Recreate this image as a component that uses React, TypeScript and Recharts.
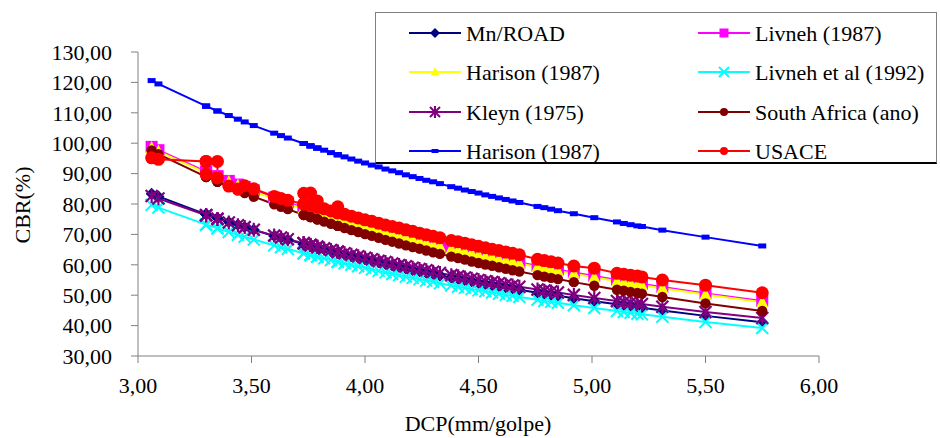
import React from 'react';
import { LineChart, Line, XAxis, YAxis, Label } from 'recharts';

const dcp = [3.06,3.09,3.30,3.30,3.30,3.35,3.35,3.40,3.44,3.47,3.51,3.60,3.63,3.66,3.73,3.73,3.73,3.76,3.76,3.76,3.79,3.79,3.79,3.82,3.85,3.88,3.88,3.88,3.91,3.94,3.97,4.00,4.03,4.06,4.09,4.12,4.15,4.18,4.21,4.24,4.27,4.30,4.33,4.38,4.41,4.44,4.47,4.50,4.53,4.56,4.59,4.62,4.65,4.68,4.76,4.79,4.82,4.85,4.92,5.01,5.11,5.14,5.17,5.20,5.22,5.31,5.50,5.75];

const mnRoad = [83.4,82.5,76.6,76.6,76.6,75.4,75.4,74.1,73.2,72.4,71.5,69.5,68.9,68.2,66.8,66.8,66.8,66.2,66.2,66.2,65.6,65.6,65.6,65.1,64.5,63.9,63.9,63.9,63.4,62.8,62.3,61.8,61.3,60.8,60.3,59.8,59.3,58.8,58.3,57.9,57.4,57.0,56.5,55.8,55.4,55.0,54.6,54.1,53.7,53.3,53.0,52.6,52.2,51.8,50.8,50.5,50.1,49.8,49.0,48.0,47.0,46.7,46.4,46.1,45.9,45.0,43.2,41.1];

const livneh1987 = [98.8,97.7,90.6,90.6,90.6,89.1,89.1,87.6,86.4,85.6,84.5,82.1,81.3,80.5,78.8,78.8,78.8,78.1,78.1,78.1,77.4,77.4,77.4,76.7,76.0,75.4,75.4,75.4,74.7,74.0,73.4,72.8,72.2,71.6,71.0,70.4,69.8,69.2,68.7,68.1,67.6,67.0,66.5,65.6,65.1,64.6,64.1,63.6,63.1,62.7,62.2,61.7,61.3,60.8,59.7,59.3,58.8,58.4,57.5,56.3,55.0,54.7,54.3,53.9,53.7,52.7,50.6,48.1];

const harison1987 = [98.4,97.3,90.2,90.2,90.2,88.7,88.7,87.2,86.0,85.2,84.1,81.7,80.9,80.1,78.4,78.4,78.4,77.7,77.7,77.7,77.0,77.0,77.0,76.3,75.6,75.0,75.0,75.0,74.3,73.6,73.0,72.4,71.8,71.2,70.6,70.0,69.4,68.8,68.3,67.7,67.2,66.6,66.1,65.2,64.7,64.2,63.7,63.2,62.7,62.3,61.8,61.3,60.9,60.4,59.3,58.9,58.4,58.0,57.1,55.9,54.6,54.3,53.9,53.5,53.3,52.3,50.2,47.7];

const livneh1992 = [79.7,78.8,73.2,73.2,73.2,72.0,72.0,70.8,69.9,69.2,68.3,66.4,65.8,65.2,63.8,63.8,63.8,63.2,63.2,63.2,62.7,62.7,62.7,62.1,61.6,61.0,61.0,61.0,60.5,60.0,59.5,59.0,58.5,58.0,57.5,57.0,56.6,56.1,55.7,55.2,54.8,54.4,53.9,53.2,52.8,52.4,52.0,51.6,51.3,50.9,50.5,50.1,49.8,49.4,48.5,48.1,47.8,47.5,46.7,45.8,44.8,44.5,44.2,43.9,43.7,42.9,41.2,39.2];

const kleyn1975 = [82.6,81.8,76.3,76.3,76.3,75.1,75.1,73.9,73.0,72.4,71.5,69.6,69.0,68.4,67.1,67.1,67.1,66.5,66.5,66.5,65.9,65.9,65.9,65.4,64.9,64.3,64.3,64.3,63.8,63.3,62.8,62.3,61.8,61.3,60.9,60.4,59.9,59.5,59.0,58.6,58.2,57.7,57.3,56.6,56.2,55.8,55.4,55.0,54.6,54.3,53.9,53.5,53.2,52.8,51.9,51.5,51.2,50.9,50.1,49.1,48.1,47.8,47.5,47.3,47.1,46.2,44.5,42.5];

const southAfrica = [97.6,96.4,88.9,88.9,88.9,87.3,87.3,85.7,84.5,83.6,82.4,79.9,79.1,78.3,76.4,76.4,76.4,75.7,75.7,75.7,75.0,75.0,75.0,74.2,73.5,72.8,72.8,72.8,72.1,71.4,70.8,70.1,69.5,68.9,68.2,67.6,67.0,66.4,65.8,65.3,64.7,64.1,63.6,62.7,62.2,61.7,61.1,60.6,60.1,59.7,59.2,58.7,58.2,57.8,56.6,56.1,55.7,55.3,54.3,53.1,51.8,51.5,51.1,50.7,50.5,49.4,47.3,44.8];

const harisonBlue = [120.6,119.5,112.2,112.2,112.2,110.6,110.6,109.1,107.9,107.0,105.8,103.3,102.5,101.7,99.9,99.9,99.9,99.1,99.1,99.1,98.4,98.4,98.4,97.7,96.9,96.2,96.2,96.2,95.5,94.8,94.1,93.5,92.8,92.2,91.5,90.9,90.3,89.6,89.0,88.4,87.8,87.3,86.7,85.7,85.2,84.6,84.1,83.6,83.0,82.5,82.0,81.5,81.0,80.5,79.2,78.8,78.3,77.8,76.8,75.5,74.1,73.6,73.2,72.8,72.6,71.4,69.1,66.2];

const usace = [95.2,94.7,94.0,89.8,94.0,94.0,88.6,85.9,84.9,86.0,85.0,82.5,81.8,81.2,80.0,83.5,80.0,79.5,83.6,79.5,78.9,81.0,78.9,78.4,77.7,77.1,79.1,77.1,76.6,76.0,75.4,74.8,74.3,73.7,73.1,72.6,72.1,71.5,71.0,70.4,69.9,69.4,68.9,68.0,67.6,67.1,66.6,66.1,65.6,65.1,64.7,64.2,63.8,63.3,61.8,61.4,61.0,60.6,59.6,58.9,57.2,56.9,56.6,56.3,56.0,55.0,53.3,50.8];

const xTicks = [3, 3.5, 4, 4.5, 5, 5.5, 6];
const yTicks = [30, 40, 50, 60, 70, 80, 90, 100, 110, 120, 130];

type ShapeName = 'diamond' | 'square' | 'triangle' | 'x' | 'star' | 'circle' | 'dash' | 'bigcircle';

const series: { key: string; name: string; color: string; shape: ShapeName; values: number[] }[] = [
  { key: 'mn', name: 'Mn/ROAD', color: '#000080', shape: 'diamond', values: mnRoad },
  { key: 'liv87', name: 'Livneh (1987)', color: '#FF00FF', shape: 'square', values: livneh1987 },
  { key: 'har', name: 'Harison (1987)', color: '#FFFF00', shape: 'triangle', values: harison1987 },
  { key: 'liv92', name: 'Livneh et al (1992)', color: '#00FFFF', shape: 'x', values: livneh1992 },
  { key: 'kleyn', name: 'Kleyn (1975)', color: '#800080', shape: 'star', values: kleyn1975 },
  { key: 'sa', name: 'South Africa (ano)', color: '#800000', shape: 'circle', values: southAfrica },
  { key: 'harB', name: 'Harison (1987)', color: '#0000FF', shape: 'dash', values: harisonBlue },
  { key: 'usace', name: 'USACE', color: '#FF0000', shape: 'bigcircle', values: usace },
];

const data = dcp.map((x, i) => {
  const row: Record<string, number> = { dcp: x };
  series.forEach((s) => { row[s.key] = s.values[i]; });
  return row;
});

const FONT = 'Liberation Serif';
const fmt = (v: number) => v.toFixed(2).replace('.', ',');
const textStyle = { fontFamily: FONT };

function marker(shape: ShapeName, cx: number, cy: number, color: string, key?: string) {
  switch (shape) {
    case 'diamond':
      return <path key={key} d={`M${cx},${cy - 6}L${cx + 6},${cy}L${cx},${cy + 6}L${cx - 6},${cy}Z`} fill={color} />;
    case 'square':
      return <rect key={key} x={cx - 6} y={cy - 6} width={12} height={12} fill={color} />;
    case 'triangle':
      return <path key={key} d={`M${cx},${cy - 7}L${cx + 6},${cy + 5}L${cx - 6},${cy + 5}Z`} fill={color} />;
    case 'x':
      return <path key={key} d={`M${cx - 6},${cy - 6}L${cx + 6},${cy + 6}M${cx - 6},${cy + 6}L${cx + 6},${cy - 6}`} stroke={color} strokeWidth={2} fill="none" />;
    case 'star':
      return <path key={key} d={`M${cx - 6},${cy - 6}L${cx + 6},${cy + 6}M${cx - 6},${cy + 6}L${cx + 6},${cy - 6}M${cx},${cy - 7}L${cx},${cy + 7}`} stroke={color} strokeWidth={2.2} fill="none" />;
    case 'circle':
      return <circle key={key} cx={cx} cy={cy} r={5.2} fill={color} />;
    case 'bigcircle':
      return <circle key={key} cx={cx} cy={cy} r={6.5} fill={color} />;
    case 'dash':
      return <rect key={key} x={cx - 4} y={cy - 2.5} width={8} height={5} fill={color} />;
  }
  return null;
}

function legendMarker(shape: ShapeName, cx: number, cy: number, color: string) {
  switch (shape) {
    case 'diamond':
      return <path d={`M${cx},${cy - 5}L${cx + 5},${cy}L${cx},${cy + 5}L${cx - 5},${cy}Z`} fill={color} />;
    case 'square':
      return <rect x={cx - 4.5} y={cy - 4.5} width={9} height={9} fill={color} />;
    case 'triangle':
      return <path d={`M${cx},${cy - 5}L${cx + 4.5},${cy + 3.5}L${cx - 4.5},${cy + 3.5}Z`} fill={color} />;
    case 'x':
      return <path d={`M${cx - 5},${cy - 5}L${cx + 5},${cy + 5}M${cx - 5},${cy + 5}L${cx + 5},${cy - 5}`} stroke={color} strokeWidth={2} fill="none" />;
    case 'star':
      return <path d={`M${cx - 5},${cy - 5}L${cx + 5},${cy + 5}M${cx - 5},${cy + 5}L${cx + 5},${cy - 5}M${cx},${cy - 6}L${cx},${cy + 6}`} stroke={color} strokeWidth={2} fill="none" />;
    case 'circle':
    case 'bigcircle':
      return <circle cx={cx} cy={cy} r={4} fill={color} />;
    case 'dash':
      return <rect x={cx - 3.5} y={cy - 2} width={7} height={4} fill={color} />;
  }
  return null;
}

const legendRows = [
  [0, 1],
  [2, 3],
  [4, 5],
  [6, 7],
];

function LegendBox() {
  const rowY = [20, 59, 99, 138];
  return (
    <div
      style={{
        position: 'absolute',
        left: 375,
        top: 12,
        width: 562,
        height: 152,
        background: '#fff',
        borderTop: '1px solid #808080',
        borderLeft: '1px solid #808080',
        borderRight: '1px solid #808080',
        borderBottom: '2px solid #000',
        boxSizing: 'border-box',
      }}
    >
      <svg width={562} height={152} style={{ position: 'absolute', left: 0, top: 0 }}>
        {legendRows.map((row, ri) =>
          row.map((si, ci) => {
            const s = series[si];
            const x0 = ci === 0 ? 33 : 322;
            const y = rowY[ri];
            return (
              <g key={`${ri}-${ci}`}>
                <line x1={x0} y1={y} x2={x0 + 52} y2={y} stroke={s.color} strokeWidth={2} />
                {legendMarker(s.shape, x0 + 26, y, s.color)}
                <text x={x0 + 57} y={y} dominantBaseline="central" style={textStyle} fontSize={22} fill="#000">
                  {s.name}
                </text>
              </g>
            );
          })
        )}
      </svg>
    </div>
  );
}

export default function App() {
  return (
    <div style={{ position: 'absolute', left: 0, top: 0, width: 940, height: 438, background: '#fff', overflow: 'hidden', fontFamily: FONT }}>
      <LineChart width={940} height={438} data={data} margin={{ top: 52, right: 121, bottom: 0, left: 8 }} style={{ fontFamily: FONT }}>
        <XAxis
          dataKey="dcp"
          type="number"
          domain={[3, 6]}
          ticks={xTicks}
          interval={0}
          tickFormatter={fmt}
          height={82}
          stroke="#808080"
          tickSize={7}
          tickMargin={14}
          tick={{ fill: '#000', fontSize: 22, style: textStyle }}
          allowDataOverflow
        >
          <Label
            content={() => (
              <text x={478} y={423} textAnchor="middle" dominantBaseline="central" style={textStyle} fontSize={22} fill="#000">
                DCP(mm/golpe)
              </text>
            )}
          />
        </XAxis>
        <YAxis
          type="number"
          domain={[30, 130]}
          ticks={yTicks}
          interval={0}
          tickFormatter={fmt}
          width={130}
          stroke="#808080"
          tickSize={7}
          tickMargin={19}
          tick={{ fill: '#000', fontSize: 22, style: textStyle }}
          allowDataOverflow
        >
          <Label
            content={() => (
              <text x={22} y={205} transform="rotate(-90 22 205)" textAnchor="middle" dominantBaseline="central" style={textStyle} fontSize={22} fill="#000">
                CBR(%)
              </text>
            )}
          />
        </YAxis>
        {series.map((s) => (
          <Line
            key={s.key}
            dataKey={s.key}
            name={s.name}
            type="linear"
            stroke={s.color}
            strokeWidth={2}
            isAnimationActive={false}
            activeDot={false}
            dot={(p: any) => {
              const k = `${s.key}-${p.index}`;
              if (p.cx == null || p.cy == null) return <g key={k} />;
              return marker(s.shape, p.cx, p.cy, s.color, k) as any;
            }}
          />
        ))}
      </LineChart>
      <LegendBox />
    </div>
  );
}
